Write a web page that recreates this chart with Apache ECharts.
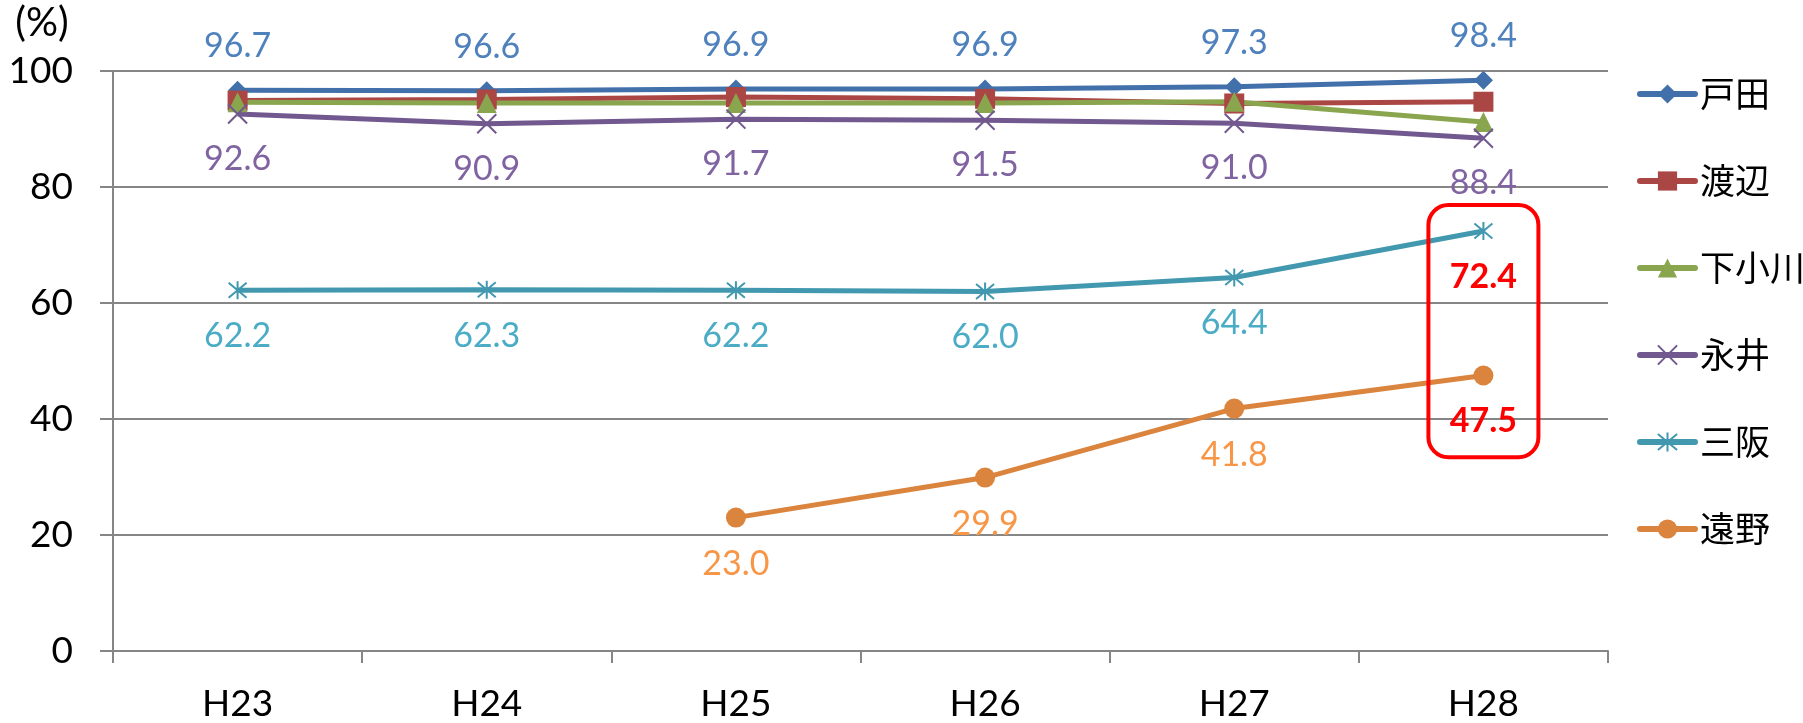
<!DOCTYPE html>
<html>
<head>
<meta charset="utf-8">
<title>収集率の推移</title>
<script src="https://cdn.jsdelivr.net/npm/echarts@6/dist/echarts.min.js"></script>
<style>
  html, body { margin: 0; padding: 0; background: #fff; }
  #chart { width: 1803px; height: 723px; }
</style>
</head>
<body>
<div id="chart"></div>
<script>
// Fiscal years (Heisei)
const years = ['H23', 'H24', 'H25', 'H26', 'H27', 'H28'];
const yTicks = [0, 20, 40, 60, 80, 100];
const unitLabel = '(%)';

// Rates per district (%)
const toda = [96.7, 96.6, 96.9, 96.9, 97.3, 98.4];
const watanabe = [94.9, 95.1, 95.5, 95.2, 94.4, 94.7];
const shimoogawa = [94.6, 94.5, 94.5, 94.5, 94.7, 91.2];
const nagai = [92.6, 90.9, 91.7, 91.5, 91.0, 88.4];
const misaka = [62.2, 62.3, 62.2, 62.0, 64.4, 72.4];
const tono = [null, null, 23.0, 29.9, 41.8, 47.5];

// Highlighted range in the latest year
const highlightYear = 'H28';
const highlightRange = [33.4, 76.9];

const LATIN = 'Lato, "Open Sans", "Liberation Sans", sans-serif';
const CJK = '"Noto Sans CJK JP", "Noto Sans", sans-serif';
const AXIS_GRAY = '#868686';

const crossPath = 'path://M0,0L10,10M10,0L0,10';
const starPath = 'path://M0,0L10,10M10,0L0,10M5,-1L5,11';

function valueLabel(color, dy, emphasizeLast, count) {
  return {
    show: true,
    position: 'inside',
    offset: [0, dy],
    fontFamily: LATIN,
    fontSize: 34,
    color: color,
    formatter: function (p) {
      if (p.value == null) return '';
      const txt = Number(p.value).toFixed(1);
      return (emphasizeLast && p.dataIndex === count - 1) ? '{hl|' + txt + '}' : txt;
    },
    rich: {
      hl: { color: '#FF0000', fontWeight: 'bold', fontSize: 34, fontFamily: LATIN }
    }
  };
}

function lineSeries(name, data, color, symbol, size, extra) {
  const s = {
    name: name,
    type: 'line',
    data: data,
    symbol: symbol,
    symbolSize: size,
    showAllSymbol: true,
    connectNulls: false,
    lineStyle: { color: color, width: 5 },
    itemStyle: { color: color },
    emphasis: { disabled: true },
    label: { show: false },
    animation: false
  };
  return Object.assign(s, extra || {});
}

const chart = echarts.init(document.getElementById('chart'), null, { renderer: 'canvas' });

const legendNames = ['戸田', '渡辺', '下小川', '永井', '三阪', '遠野'];

const option = {
  backgroundColor: '#ffffff',
  animation: false,
  grid: { left: 113, right: 195, top: 71, bottom: 71, containLabel: false },
  legend: {
    orient: 'vertical',
    left: 1632,
    top: 69,
    itemWidth: 55,
    itemHeight: 24,
    itemGap: 47,
    lineStyle: { width: 6, cap: 'round' },
    textStyle: { fontFamily: CJK, fontSize: 35, color: '#000', lineHeight: 40 },
    data: legendNames.map(function (n) { return { name: n, lineStyle: { width: 6, cap: 'round' } }; })
  },
  xAxis: {
    type: 'category',
    data: years,
    boundaryGap: true,
    axisLine: { lineStyle: { color: AXIS_GRAY, width: 2 } },
    axisTick: { show: true, length: 12, inside: false, lineStyle: { color: AXIS_GRAY, width: 2 } },
    axisLabel: { fontFamily: LATIN, fontSize: 37, color: '#000', margin: 35 },
    splitLine: { show: false }
  },
  yAxis: {
    type: 'value',
    name: unitLabel,
    nameLocation: 'end',
    nameGap: 28,
    nameTextStyle: {
      fontFamily: LATIN,
      fontSize: 40,
      lineHeight: 40,
      color: '#000',
      align: 'center',
      padding: [0, 142, 0, 0]
    },
    min: yTicks[0],
    max: yTicks[yTicks.length - 1],
    interval: yTicks[1] - yTicks[0],
    axisLine: { show: true, lineStyle: { color: AXIS_GRAY, width: 2 } },
    axisTick: { show: true, length: 13, lineStyle: { color: AXIS_GRAY, width: 2 } },
    axisLabel: { fontFamily: LATIN, fontSize: 37, color: '#000', margin: 40 },
    splitLine: { show: true, lineStyle: { color: AXIS_GRAY, width: 2 } }
  },
  series: [
    lineSeries('戸田', toda, '#4270AA', 'diamond', 19, {
      label: valueLabel('#4F81BD', -44, false, toda.length)
    }),
    lineSeries('渡辺', watanabe, '#AA4643', 'rect', 20),
    lineSeries('下小川', shimoogawa, '#89A54E', 'triangle', 20),
    lineSeries('永井', nagai, '#71588F', crossPath, 19, {
      itemStyle: { color: 'rgba(0,0,0,0)', borderColor: '#71588F', borderWidth: 2 },
      label: valueLabel('#8064A2', 45, false, nagai.length)
    }),
    lineSeries('三阪', misaka, '#4198AF', starPath, 18, {
      itemStyle: { color: 'rgba(0,0,0,0)', borderColor: '#4198AF', borderWidth: 2 },
      label: valueLabel('#4BACC6', 46, true, misaka.length)
    }),
    lineSeries('遠野', tono, '#DB843D', 'circle', 20, {
      label: valueLabel('#F79646', 46, true, tono.length)
    })
  ]
};

chart.setOption(option);

// Rounded red frame around the latest-year values of 三阪 and 遠野
function drawHighlight() {
  const topPt = chart.convertToPixel({ gridIndex: 0 }, [highlightYear, highlightRange[1]]);
  const botPt = chart.convertToPixel({ gridIndex: 0 }, [highlightYear, highlightRange[0]]);
  const halfWidth = 55;
  chart.setOption({
    graphic: [{
      type: 'rect',
      z: 100,
      silent: true,
      shape: {
        x: topPt[0] - halfWidth,
        y: topPt[1],
        width: halfWidth * 2,
        height: botPt[1] - topPt[1],
        r: 20
      },
      style: { fill: 'none', stroke: '#FF0000', lineWidth: 4 }
    }]
  });
}
drawHighlight();
</script>
</body>
</html>
